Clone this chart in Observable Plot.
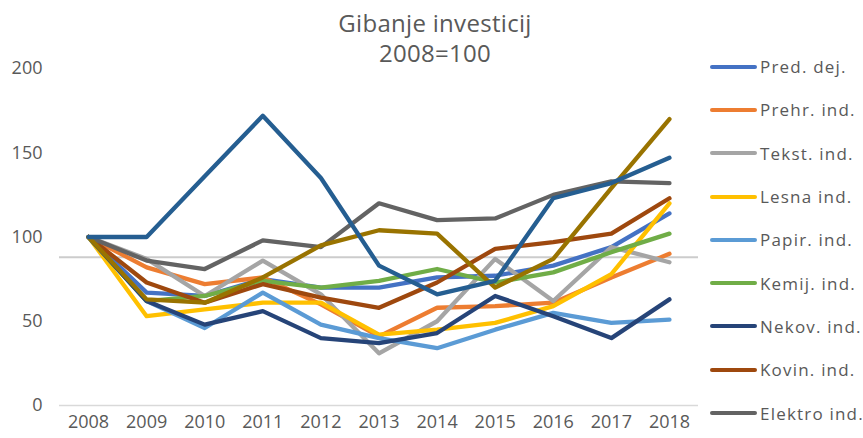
<!DOCTYPE html>
<html>
<head>
<meta charset="utf-8">
<script src="https://cdn.jsdelivr.net/npm/d3@7"></script>
<script src="https://cdn.jsdelivr.net/npm/@observablehq/plot@0.6"></script>
<style>
  html, body { margin: 0; padding: 0; background: #fff; }
  #wrap { position: relative; width: 863px; height: 438px; overflow: hidden; font-family: "Open Sans", sans-serif; color: #595959; }
  #title { position: absolute; left: 0; width: 870px; top: 8px; text-align: center; font-size: 24px; line-height: 30px; letter-spacing: 0.3px; }
  #legend { position: absolute; left: 710px; top: 45px; }
  .item { display: flex; align-items: center; height: 43.3px; }
  .sw { width: 47px; height: 4px; border-radius: 2px; margin-right: 3px; }
  .lab { font-size: 17px; letter-spacing: 1.2px; white-space: nowrap; }
  #chart { position: absolute; left: 0; top: 0; }
</style>
</head>
<body>
<div id="wrap">
  <div id="chart"></div>
  <div id="title">Gibanje investicij<br>2008=100</div>
  <div id="legend"></div>
</div>
<script>
const years = [2008, 2009, 2010, 2011, 2012, 2013, 2014, 2015, 2016, 2017, 2018];
const yTicks = [0, 50, 100, 150, 200];
const seriesNames = ["Pred. dej.", "Prehr. ind.", "Tekst. ind.", "Lesna ind.", "Papir. ind.", "Kemij. ind.", "Nekov. ind.", "Kovin. ind.", "Elektro ind.", "Stroj. ind.", "Motor. voz."];
const seriesColors = ["#4472C4", "#ED7D31", "#A5A5A5", "#FFC000", "#5B9BD5", "#70AD47", "#264478", "#9E480E", "#636363", "#997300", "#255E91"];
const legendCount = 9; // entries visible in the reference legend

const predDej   = [100, 67, 65, 75, 70, 70, 76, 77, 83, 94, 114];
const prehrInd  = [100, 82, 72, 76, 60, 41, 58, 59, 61, 76, 90];
const tekstInd  = [100, 87, 65, 86, 66, 31, 50, 87, 62, 94, 85];
const lesnaInd  = [100, 53, 57, 61, 61, 42, 45, 49, 59, 78, 120];
const papirInd  = [100, 62, 46, 67, 48, 40, 34, 45, 55, 49, 51];
const kemijInd  = [100, 62, 65, 74, 70, 74, 81, 73, 79, 91, 102];
const nekovInd  = [100, 62, 48, 56, 40, 37, 43, 65, 53, 40, 63];
const kovinInd  = [100, 73, 61, 72, 64, 58, 73, 93, 97, 102, 123];
const elektroInd= [100, 86, 81, 98, 94, 120, 110, 111, 125, 133, 132];
const strojInd  = [100, 63, 61, 76, 95, 104, 102, 70, 87, 129, 170];
const motorVoz  = [100, 100, 136, 172, 135, 83, 66, 74, 123, 132, 147];
const refLine = [88];

const seriesValues = [predDej, prehrInd, tekstInd, lesnaInd, papirInd, kemijInd, nekovInd, kovinInd, elektroInd, strojInd, motorVoz];

const data = [];
seriesNames.forEach((name, i) => {
  years.forEach((yr, j) => data.push({series: name, year: yr, value: seriesValues[i][j]}));
});

const chart = Plot.plot({
  width: 698,
  height: 438,
  marginLeft: 59,
  marginRight: 0,
  marginTop: 68,
  marginBottom: 33,
  style: {fontFamily: "Open Sans, sans-serif", fontSize: "18px", color: "#595959", background: "transparent"},
  x: {domain: [2007.5, 2018.5], ticks: years, tickFormat: d => String(d), tickSize: 0, tickPadding: 10, label: null},
  y: {domain: [0, 200], ticks: yTicks, tickSize: 0, tickPadding: 17, label: null},
  color: {domain: seriesNames, range: seriesColors},
  marks: [
    Plot.ruleY([0], {stroke: "#d9d9d9", strokeWidth: 1.5}),
    Plot.ruleY(refLine, {stroke: "#cccccc", strokeWidth: 2}),
    Plot.line(data, {x: "year", y: "value", z: "series", stroke: "series", strokeWidth: 4.3, strokeLinejoin: "round", strokeLinecap: "round"})
  ]
});
document.getElementById("chart").appendChild(chart);

const legend = document.getElementById("legend");
seriesNames.slice(0, legendCount).forEach((name, i) => {
  const item = document.createElement("div");
  item.className = "item";
  const sw = document.createElement("div");
  sw.className = "sw";
  sw.style.background = seriesColors[i];
  const lab = document.createElement("span");
  lab.className = "lab";
  lab.textContent = name;
  item.appendChild(sw);
  item.appendChild(lab);
  legend.appendChild(item);
});
</script>
</body>
</html>
